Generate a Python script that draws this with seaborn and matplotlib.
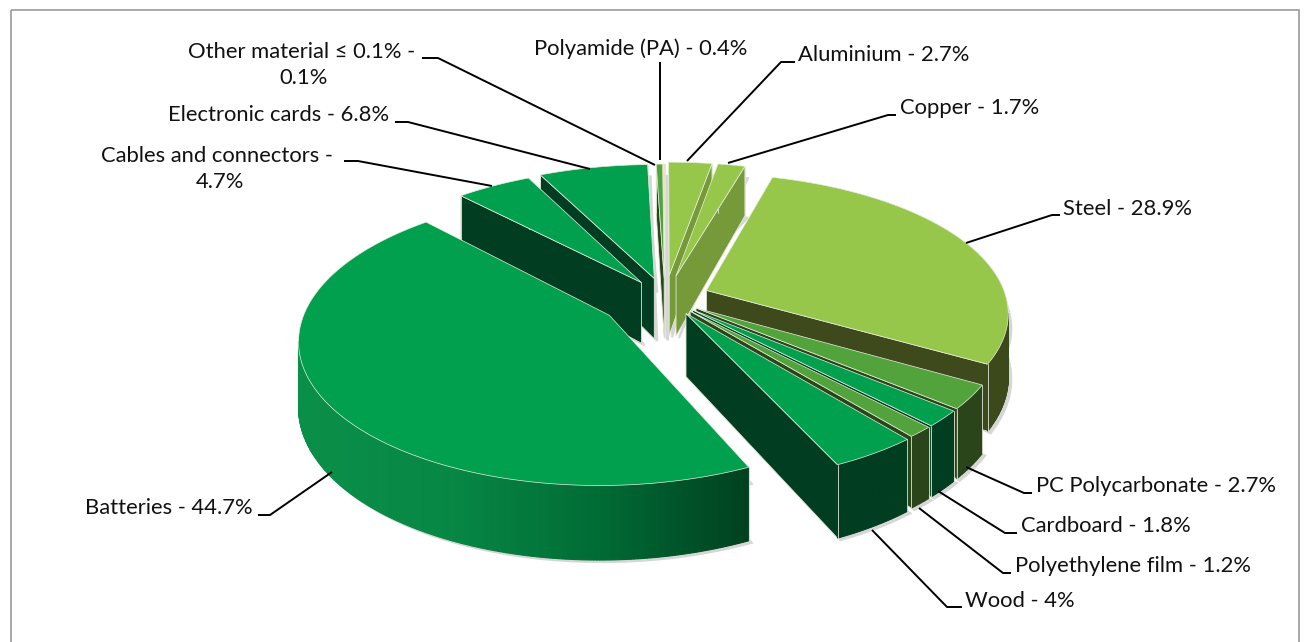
import numpy as np
import matplotlib
matplotlib.use("Agg")
import matplotlib.pyplot as plt
from matplotlib.patches import Polygon, Rectangle
import seaborn as sns

# clockwise from 12 o'clock, as the slices sit in the chart
materials = ["Aluminium", "Copper", "Steel", "PC Polycarbonate", "Cardboard",
             "Polyethylene film", "Wood", "Batteries", "Cables and connectors",
             "Electronic cards", "Polyamide (PA)", "Other material \u2264 0.1%"]
shares = [2.7, 1.7, 28.9, 2.7, 1.8, 1.2, 4, 44.7, 4.7, 6.8, 0.4, 0.1]

explode = [0.17, 0.17, 0.15, 0.125, 0.125, 0.125, 0.13, 0.22, 0.14, 0.15, 0.15, 0.15]
top_colors = ["#97C74A", "#97C74A", "#97C74A", "#52A33C", "#00A04E", "#52A33C",
              "#00A04E", "#00A04E", "#00A04E", "#00A04E", "#52A33C", "#F8D0A8"]
side_colors = [["#76993A"], ["#76993A"], ["#3C4A1B"], ["#2A4519"], ["#013D20"], ["#2A4519"],
               ["#013D20"], ["#0A8F48", "#078744", "#006B35", "#00401F"],
               ["#013D20"], ["#013D20"], ["#2A4519"], ["#C8B090"]]
cut_colors = ["#76993A", "#76993A", "#3F4A1C", "#2A4519", "#013D20", "#2A4519",
              "#013D20", "#013D20", "#013D20", "#013D20", "#2A4519", "#C8B090"]

# label anchor and leader line, in picture pixels
label_layout = {
    "Aluminium": (798, 55, "left", [(795, 62), (781, 62), (687, 161)]),
    "Copper": (900, 108, "left", [(896, 115), (888, 115), (728, 163)]),
    "Steel": (1063, 209, "left", [(1060, 215), (1052, 215), (966, 243)]),
    "PC Polycarbonate": (1036, 486, "left", [(1032, 493), (1024, 493), (966, 467)]),
    "Cardboard": (1021, 526, "left", [(1017, 533), (1005, 533), (938, 491)]),
    "Polyethylene film": (1015, 566, "left", [(1011, 573), (1003, 573), (919, 508)]),
    "Wood": (965, 601, "left", [(962, 607), (947, 607), (872, 530)]),
    "Batteries": (85, 508, "left", [(258, 515), (270, 515), (332, 472)]),
    "Cables and connectors": (220, 169, "center", [(344, 161), (358, 161), (492, 186)]),
    "Electronic cards": (168, 115, "left", [(395, 122), (408, 122), (590, 169)]),
    "Polyamide (PA)": (534, 49, "left", [(660, 62), (660, 160)]),
    "Other material \u2264 0.1%": (304, 65, "center", [(422, 58), (438, 58), (655, 165)]),
}
wrapped = {"Cables and connectors": "Cables and connectors - \n4.7%",
           "Other material \u2264 0.1%": "Other material \u2264 0.1% - \n0.1%"}

sns.set_theme(style="white")
plt.rcParams["font.family"] = ["Lato", "DejaVu Sans"]

CX, CY, RX, RY, DEPTH = 665, 298, 300, 137.5, 62


def project(x, y, z=0.0):
    # simple perspective: the back of the pie is smaller and thinner
    x, y = np.asarray(x, float), np.asarray(y, float)
    sx = 1 / (1 + 0.15 * y)
    sy = 1 / (1 + 0.157 * y)
    return np.column_stack([CX + RX * x * sx, CY - RY * y * sy + z * DEPTH * (1 - 0.18 * y)])


fig, ax = plt.subplots(figsize=(13.07, 6.42), dpi=100)
fig.subplots_adjust(0, 0, 1, 1)

# ax.pie gives the angles and exploded centres from the shares
wedges, _ = ax.pie(shares, explode=explode, startangle=90, counterclock=False, radius=1)
slices = []
for i, w in enumerate(wedges):
    slices.append((i, w.center[0], w.center[1], w.theta1, w.theta2))
    w.remove()
ax.set_aspect("auto")
ax.set_xlim(0, 1307)
ax.set_ylim(642, 0)
ax.set_axis_off()

ax.add_patch(Rectangle((10.5, 9.5), 1288, 660, fill=False, ec="#9a9a9a", lw=1.2, zorder=0, clip_on=False))


def blend(stops, t):
    pal = sns.blend_palette(stops * 2 if len(stops) == 1 else stops, n_colors=200)
    return pal[int(np.clip(t, 0, 1) * 199)]


def faces_of(cx0, cy0, t1, t2):
    # walk the outline clockwise seen from above: apex, rim, back to apex
    ang = np.radians(np.linspace(t2, t1, max(int(abs(t2 - t1)) * 2, 3)))
    rx, ry = cx0 + np.cos(ang), cy0 + np.sin(ang)
    return rx, ry


def area(p):
    x, y = p[:, 0], p[:, 1]
    return np.sum(x * np.roll(y, -1) - np.roll(x, -1) * y)


order = sorted(slices, key=lambda s: -(s[2] + np.sin(np.radians((s[3] + s[4]) / 2)) * 0.6))

# soft grey shadow under the whole thing
for i, c0, c1, t1, t2 in order:
    rx, ry = faces_of(c0, c1, t1, t2)
    xs = np.r_[c0, rx]
    ys = np.r_[c1, ry]
    bottom = project(xs, ys, 1.0) + np.array([3, 2])
    top = project(xs, ys, 0.2) + np.array([3, 2])
    ax.add_patch(Polygon(np.vstack([top, bottom]), closed=True, fc="#d6d6d6", ec="#d6d6d6", lw=1.5, zorder=1))

z = 2
for i, c0, c1, t1, t2 in order:
    rx, ry = faces_of(c0, c1, t1, t2)
    rim_top = project(rx, ry, 0)
    rim_bot = project(rx, ry, 1)
    apex_top = project([c0], [c1], 0)[0]
    apex_bot = project([c0], [c1], 1)[0]
    # cut faces
    for a_t, b_t, a_b, b_b in [(apex_top, rim_top[0], apex_bot, rim_bot[0]),
                               (rim_top[-1], apex_top, rim_bot[-1], apex_bot)]:
        quad = np.array([a_t, b_t, b_b, a_b])
        if area(quad) < 0:
            ax.add_patch(Polygon(quad, closed=True, fc=cut_colors[i], ec="#dfe6d6", lw=0.6, zorder=z))
            z += 1
    # outer wall, small strips so it can carry a gradient
    xmin, xmax = rim_top[:, 0].min(), rim_top[:, 0].max()
    for k in range(len(rim_top) - 1):
        quad = np.array([rim_top[k], rim_top[k + 1], rim_bot[k + 1], rim_bot[k]])
        if area(quad) < 0:
            t = (quad[:, 0].mean() - xmin) / max(xmax - xmin, 1)
            col = blend(side_colors[i], t)
            ax.add_patch(Polygon(quad, closed=True, fc=col, ec=col, lw=0.8, zorder=z))
    z += 1
    for p_t, p_b in [(rim_top[0], rim_bot[0]), (rim_top[-1], rim_bot[-1])]:
        if area(np.array([apex_top, p_t, p_b, apex_bot])) < 0 or area(np.array([p_t, apex_top, apex_bot, p_b])) < 0:
            ax.plot([p_t[0], p_b[0]], [p_t[1], p_b[1]], color="#dfe6d6", lw=0.6, zorder=z)
    ax.add_patch(Polygon(np.vstack([apex_top, rim_top]), closed=True, fc=top_colors[i],
                         ec="#e6eedd", lw=0.5, zorder=z))
    z += 1

for name, val in zip(materials, shares):
    x, y, ha, leader = label_layout[name]
    pts = np.array(leader)
    ax.plot(pts[:, 0], pts[:, 1], color="black", lw=1.4, zorder=z, solid_capstyle="butt")
    txt = wrapped.get(name, f"{name} - {val:g}%")
    ax.text(x, y, txt, ha=ha, va="center", fontsize=15.8, color="#111111", zorder=z + 1, linespacing=1.4)

plt.savefig("out.png", dpi=100)
